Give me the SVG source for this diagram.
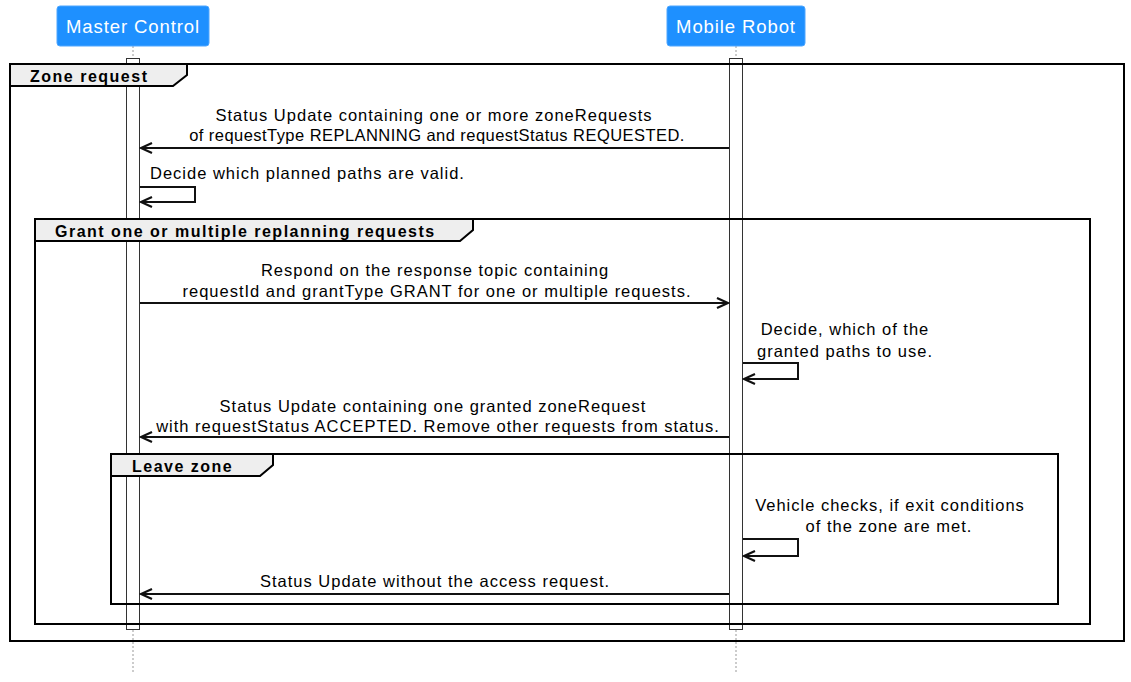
<svg xmlns="http://www.w3.org/2000/svg" width="1131" height="682" viewBox="0 0 1131 682">
<defs>
<style>
.actor{fill:#1e90ff;stroke:#4ea6ff;stroke-width:1}
.actor-t{font-family:"Liberation Sans",Arial,sans-serif;font-size:18.5px;letter-spacing:0.9px;fill:#fff;text-anchor:middle}
.life{stroke:#999;stroke-width:1;stroke-dasharray:2 2}
.act{fill:#fff;stroke:#333;stroke-width:1}
.frame{fill:none;stroke:#000;stroke-width:2}
.tab{fill:#eee;stroke:#000;stroke-width:2}
.tab-t{font-family:"Liberation Sans",Arial,sans-serif;font-size:16px;font-weight:bold;letter-spacing:1.5px;fill:#000}
.msg{fill:none;stroke:#111;stroke-width:2}
.msg-t{font-family:"Liberation Sans",Arial,sans-serif;font-size:16.5px;letter-spacing:1px;fill:#000}
.mid{text-anchor:middle}
</style>
<marker id="arr" markerUnits="userSpaceOnUse" viewBox="0 0 14 12" markerWidth="14" markerHeight="12" refX="12" refY="6" orient="auto">
<path d="M1,1 L12,6 L1,11" fill="none" stroke="#111" stroke-width="2.2" stroke-linejoin="miter"/>
</marker>
</defs>
<rect width="1131" height="682" fill="#fff"/>

<g id="lifelines">
<line class="life" x1="133" y1="46" x2="133" y2="58"/>
<line class="life" x1="133" y1="630" x2="133" y2="672"/>
<line class="life" x1="736" y1="46" x2="736" y2="58"/>
<line class="life" x1="736" y1="630" x2="736" y2="672"/>
<rect class="act" x="126.5" y="58.5" width="13" height="571"/>
<rect class="act" x="729.5" y="58.5" width="13" height="571"/>
</g>

<g id="master-control">
<rect class="actor" x="57" y="6" width="152" height="40" rx="3"/>
<text class="actor-t" x="133" y="33">Master Control</text>
</g>
<g id="mobile-robot">
<rect class="actor" x="667" y="6" width="138" height="40" rx="3"/>
<text class="actor-t" x="736" y="33">Mobile Robot</text>
</g>

<g id="frame-zone-request">
<rect class="frame" x="10" y="64" width="1114" height="577"/>
<path class="tab" d="M10,64 H187 V75 L173,86 H10 Z"/>
<text class="tab-t" x="30" y="82">Zone request</text>
</g>
<g id="frame-grant">
<rect class="frame" x="35" y="219" width="1055" height="405"/>
<path class="tab" d="M35,219 H473 V230 L460,241 H35 Z"/>
<text class="tab-t" x="55" y="237">Grant one or multiple replanning requests</text>
</g>
<g id="frame-leave-zone">
<rect class="frame" x="111" y="454" width="947" height="150"/>
<path class="tab" d="M111,454 H273 V465 L260,476 H111 Z"/>
<text class="tab-t" x="132" y="472">Leave zone</text>
</g>

<g id="connectors">
<line class="msg" x1="729" y1="148" x2="141" y2="148" marker-end="url(#arr)"/>
<text class="msg-t mid" x="434" y="121">Status Update containing one or more zoneRequests</text>
<text class="msg-t mid" x="437" y="141" style="letter-spacing:0.45px">of requestType REPLANNING and requestStatus REQUESTED.</text>

<polyline class="msg" points="140,187 195,187 195,202 141,202" marker-end="url(#arr)"/>
<text class="msg-t" x="150" y="179">Decide which planned paths are valid.</text>

<line class="msg" x1="140" y1="303" x2="728" y2="303" marker-end="url(#arr)"/>
<text class="msg-t mid" x="435" y="276">Respond on the response topic containing</text>
<text class="msg-t mid" x="437" y="297">requestId and grantType GRANT for one or multiple requests.</text>

<polyline class="msg" points="743,363 798,363 798,379 744,379" marker-end="url(#arr)"/>
<text class="msg-t mid" x="845" y="335">Decide, which of the</text>
<text class="msg-t mid" x="845" y="357">granted paths to use.</text>

<line class="msg" x1="729" y1="437" x2="141" y2="437" marker-end="url(#arr)"/>
<text class="msg-t mid" x="433" y="412">Status Update containing one granted zoneRequest</text>
<text class="msg-t mid" x="438" y="432">with requestStatus ACCEPTED. Remove other requests from status.</text>

<polyline class="msg" points="743,539 798,539 798,556 744,556" marker-end="url(#arr)"/>
<text class="msg-t mid" x="890" y="511">Vehicle checks, if exit conditions</text>
<text class="msg-t mid" x="889" y="532">of the zone are met.</text>

<line class="msg" x1="729" y1="594" x2="141" y2="594" marker-end="url(#arr)"/>
<text class="msg-t mid" x="435" y="587">Status Update without the access request.</text>
</g>
</svg>
